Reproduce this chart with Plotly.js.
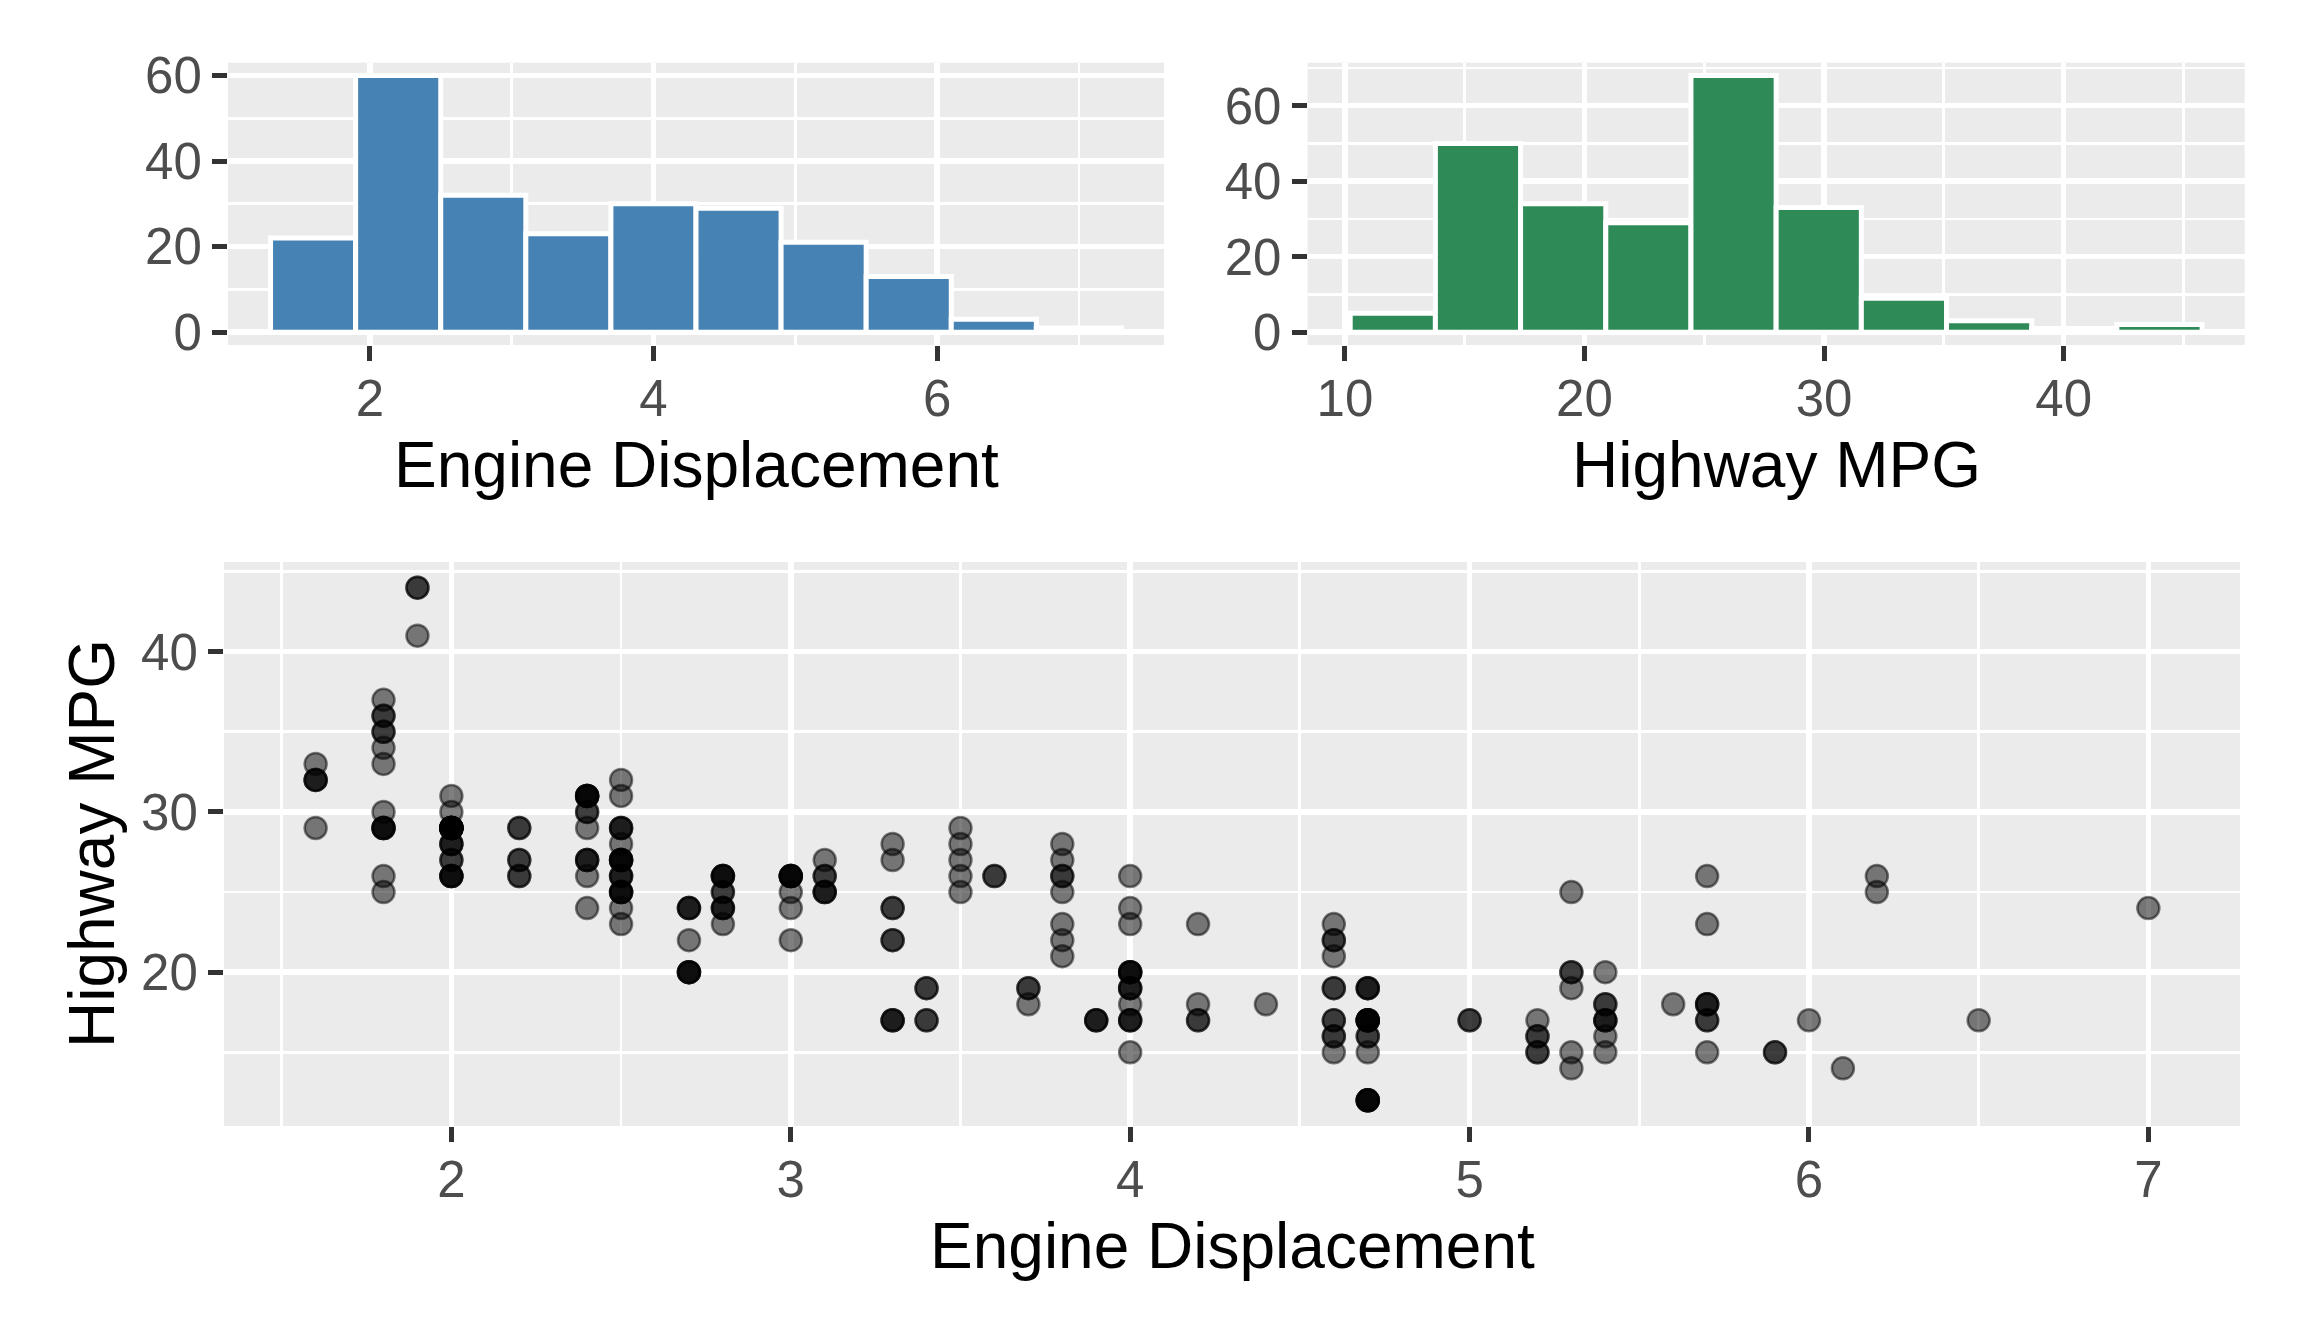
<!DOCTYPE html>
<html>
<head>
<meta charset="utf-8">
<script src="https://cdn.plot.ly/plotly-3.0.1.min.js"></script>
<style>
  html, body { margin: 0; padding: 0; background: #ffffff; }
  #chart { width: 2304px; height: 1344px; }
</style>
</head>
<body>
<div id="chart"></div>
<script>
// histogram bins (mid points) and counts
var displMids = [1.6, 2.2, 2.8, 3.4, 4.0, 4.6, 5.2, 5.8, 6.4, 7.0];
var displCounts = [22, 60, 32, 23, 30, 29, 21, 13, 3, 1];
var hwyMids = [12, 15.556, 19.111, 22.667, 26.222, 29.778, 33.333, 36.889, 40.444, 44];
var hwyCounts = [5, 50, 34, 29, 68, 33, 9, 3, 1, 2];

// scatter points, grouped by displacement
var displ = [
  1.6,1.6,1.6,1.6,1.6,
  1.8,1.8,1.8,1.8,1.8,1.8,1.8,1.8,1.8,1.8,1.8,1.8,1.8,1.8,
  1.9,1.9,1.9,
  2.0,2.0,2.0,2.0,2.0,2.0,2.0,2.0,2.0,2.0,2.0,2.0,2.0,2.0,2.0,2.0,2.0,2.0,2.0,2.0,2.0,
  2.2,2.2,2.2,2.2,2.2,2.2,
  2.4,2.4,2.4,2.4,2.4,2.4,2.4,2.4,2.4,2.4,2.4,2.4,2.4,
  2.5,2.5,2.5,2.5,2.5,2.5,2.5,2.5,2.5,2.5,2.5,2.5,2.5,2.5,2.5,2.5,2.5,2.5,2.5,2.5,
  2.7,2.7,2.7,2.7,2.7,2.7,2.7,2.7,
  2.8,2.8,2.8,2.8,2.8,2.8,2.8,2.8,2.8,2.8,
  3.0,3.0,3.0,3.0,3.0,3.0,3.0,3.0,
  3.1,3.1,3.1,3.1,3.1,3.1,
  3.3,3.3,3.3,3.3,3.3,3.3,3.3,3.3,3.3,
  3.4,3.4,3.4,3.4,
  3.5,3.5,3.5,3.5,3.5,
  3.6,3.6,
  3.7,3.7,3.7,
  3.8,3.8,3.8,3.8,3.8,3.8,3.8,3.8,
  3.9,3.9,3.9,
  4.0,4.0,4.0,4.0,4.0,4.0,4.0,4.0,4.0,4.0,4.0,4.0,4.0,4.0,4.0,
  4.2,4.2,4.2,4.2,
  4.4,
  4.6,4.6,4.6,4.6,4.6,4.6,4.6,4.6,4.6,4.6,4.6,
  4.7,4.7,4.7,4.7,4.7,4.7,4.7,4.7,4.7,4.7,4.7,4.7,4.7,4.7,4.7,4.7,4.7,
  5.0,5.0,
  5.2,5.2,5.2,5.2,5.2,
  5.3,5.3,5.3,5.3,5.3,5.3,
  5.4,5.4,5.4,5.4,5.4,5.4,5.4,5.4,
  5.6,
  5.7,5.7,5.7,5.7,5.7,5.7,5.7,5.7,
  5.9,5.9,
  6.0,
  6.1,
  6.2,6.2,
  6.5,
  7.0
];
var hwy = [
  33,32,32,32,29,
  37,36,36,35,35,34,33,30,29,29,29,29,26,25,
  44,44,41,
  31,30,29,29,29,29,29,29,29,29,29,29,28,28,28,27,27,26,26,26,26,
  29,29,27,27,26,26,
  31,31,31,31,31,30,30,29,27,27,27,26,24,
  32,31,29,29,29,28,27,27,27,27,27,26,26,26,25,25,25,25,24,23,
  24,24,24,22,20,20,20,20,
  26,26,26,26,25,25,24,24,24,23,
  26,26,26,26,26,25,24,22,
  27,26,26,25,25,25,
  28,27,24,24,22,22,17,17,17,
  19,19,17,17,
  29,28,27,26,25,
  26,26,
  19,19,18,
  28,27,26,26,25,23,22,21,
  17,17,17,
  26,24,23,20,20,20,20,19,19,19,18,17,17,17,15,
  23,18,17,17,
  18,
  23,22,22,21,19,19,17,17,16,16,15,
  19,19,19,17,17,17,17,17,17,16,16,15,12,12,12,12,12,
  17,17,
  17,16,16,15,15,
  25,20,20,19,15,14,
  20,18,18,17,17,17,16,15,
  18,
  26,23,18,18,18,17,17,15,
  15,15,
  17,
  14,
  26,25,
  17,
  24
];

var W = 2304, H = 1344;
var FONT = 'Liberation Sans, Arial, sans-serif';

// pixel box -> paper domain
function xdom(a, b) { return [a / W, b / W]; }
function ydom(top, bottom) { return [1 - bottom / H, 1 - top / H]; }

function axisStyle(extra) {
  var base = {
    showgrid: true,
    gridcolor: '#ffffff',
    gridwidth: 5.5,
    zeroline: false,
    showline: false,
    ticks: 'outside',
    ticklen: 15,
    tickwidth: 5,
    tickcolor: '#333333',
    tickfont: { family: FONT, size: 51, color: '#4D4D4D' },
    fixedrange: true
  };
  for (var k in extra) base[k] = extra[k];
  return base;
}
function minorGrid(dtick, tick0) {
  return { dtick: dtick, tick0: tick0, showgrid: true, gridcolor: '#ffffff', gridwidth: 2.8, ticks: '' };
}

var traces = [
  {
    type: 'bar', x: displMids, y: displCounts, width: 0.6,
    marker: { color: '#4682B4', line: { color: '#ffffff', width: 5 } },
    xaxis: 'x', yaxis: 'y', hoverinfo: 'skip'
  },
  {
    type: 'bar', x: hwyMids, y: hwyCounts, width: 3.5556,
    marker: { color: '#2E8B57', line: { color: '#ffffff', width: 5 } },
    xaxis: 'x2', yaxis: 'y2', hoverinfo: 'skip'
  },
  {
    type: 'scatter', mode: 'markers', x: displ, y: hwy,
    marker: { size: 22, color: 'rgba(0,0,0,0.5)', line: { color: 'rgba(0,0,0,0.5)', width: 2.5 } },
    xaxis: 'x3', yaxis: 'y3', hoverinfo: 'skip'
  }
];

function title(text, x, y, angle) {
  return {
    text: text, xref: 'paper', yref: 'paper', x: x / W, y: 1 - y / H,
    xanchor: 'center', yanchor: 'middle', showarrow: false, textangle: angle || 0,
    font: { family: FONT, size: 64, color: '#000000' }
  };
}

var layout = {
  width: W, height: H,
  margin: { l: 0, r: 0, t: 0, b: 0 },
  paper_bgcolor: '#ffffff',
  plot_bgcolor: '#EBEBEB',
  showlegend: false,
  font: { family: FONT },
  xaxis: axisStyle({ domain: xdom(228, 1164), anchor: 'y', range: [1.0, 7.6], dtick: 2, tick0: 0, ticklabelstandoff: -6, minor: minorGrid(1, 0) }),
  yaxis: axisStyle({ domain: ydom(62.7, 345), anchor: 'x', range: [-3, 63], dtick: 20, tick0: 0, minor: minorGrid(10, 0) }),
  xaxis2: axisStyle({ domain: xdom(1307.6, 2244.7), anchor: 'y2', range: [8.444, 47.556], dtick: 10, tick0: 0, ticklabelstandoff: -6, minor: minorGrid(5, 0) }),
  yaxis2: axisStyle({ domain: ydom(62.7, 345), anchor: 'x2', range: [-3.4, 71.4], dtick: 20, tick0: 0, minor: minorGrid(10, 0) }),
  xaxis3: axisStyle({ domain: xdom(224, 2240), anchor: 'y3', range: [1.33, 7.27], dtick: 1, tick0: 0, ticklabelstandoff: -6, minor: minorGrid(0.5, 0) }),
  yaxis3: axisStyle({ domain: ydom(562, 1126), anchor: 'x3', range: [10.4, 45.6], dtick: 10, tick0: 0, minor: minorGrid(5, 0) }),
  annotations: [
    title('Engine Displacement', 696, 465),
    title('Highway MPG', 1776, 465),
    title('Engine Displacement', 1232, 1246),
    title('Highway MPG', 92, 844, -90)
  ]
};

Plotly.newPlot('chart', traces, layout, { displayModeBar: false, staticPlot: true });
</script>
</body>
</html>
